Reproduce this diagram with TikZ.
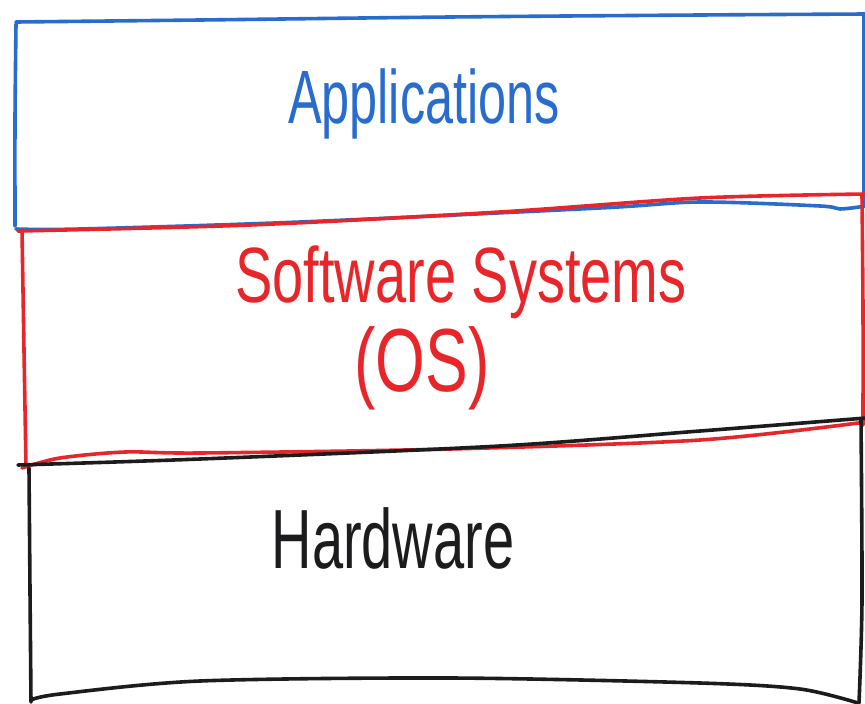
\documentclass[tikz,border=0pt]{standalone}
\usepackage{fontspec}
\setmainfont{Liberation Sans}
\definecolor{penblue}{RGB}{40,108,205}
\definecolor{penred}{RGB}{232,38,42}
\definecolor{penblack}{RGB}{28,28,30}
\begin{document}
\begin{tikzpicture}[x=1pt,y=-1pt,
  pen/.style={line width=3.6pt,line cap=round,line join=round},
  label/.style={inner sep=0pt,font=\fontsize{56}{60}\selectfont}]
\useasboundingbox (0,0) rectangle (865,704);
\fill[white] (0,0) rectangle (865,704);

% application layer (blue)
\draw[pen,penblue] plot[smooth] coordinates {(16,22) (200,20) (450,17) (700,15) (866,14)};
\draw[pen,penblue] plot[smooth] coordinates {(16,24) (15,120) (15,226)};
\draw[pen,penblue] (864,14) -- (864,206);
\draw[pen,penblue] plot[smooth] coordinates {(16,229) (80,229) (300,222) (600,208) (700,202) (820,206) (840,209) (866,206)};

% system software layer (red)
\draw[pen,penred] plot[smooth] coordinates {(18,231) (250,225) (500,212) (700,198) (866,194)};
\draw[pen,penred] plot[smooth] coordinates {(22,230) (24,350) (26,466)};
\draw[pen,penred] plot[smooth] coordinates {(862,195) (863,310) (863,425)};
\draw[pen,penred] plot[smooth] coordinates {(22,468) (60,458) (125,452) (200,453) (450,449) (700,440) (866,422)};

% hardware layer (black)
\draw[pen,penblack] plot[smooth] coordinates {(18,465) (200,459) (500,446) (700,431) (866,418)};
\draw[pen,penblack] plot[smooth] coordinates {(29,468) (30,590) (31,702)};
\draw[pen,penblack] plot[smooth] coordinates {(31,700) (60,694) (200,681) (450,678) (700,683) (800,689) (858,703)};
\draw[pen,penblack] plot[smooth] coordinates {(861,420) (862,600) (859,703)};

% layer labels
\node[label,text=penblue,xscale=0.9,yscale=1.35] (apps) at (424,104) {Applications};
\node[label,text=penred,yscale=1.4] (sw) at (461,282) {Software Systems};
\node[label,text=penred,font=\fontsize{64}{70}\selectfont,yscale=1.4] (os) at (422,368) {(OS)};
\node[label,text=penblack,yscale=1.5] (hw) at (393,538) {Hardware};
\end{tikzpicture}
\end{document}
